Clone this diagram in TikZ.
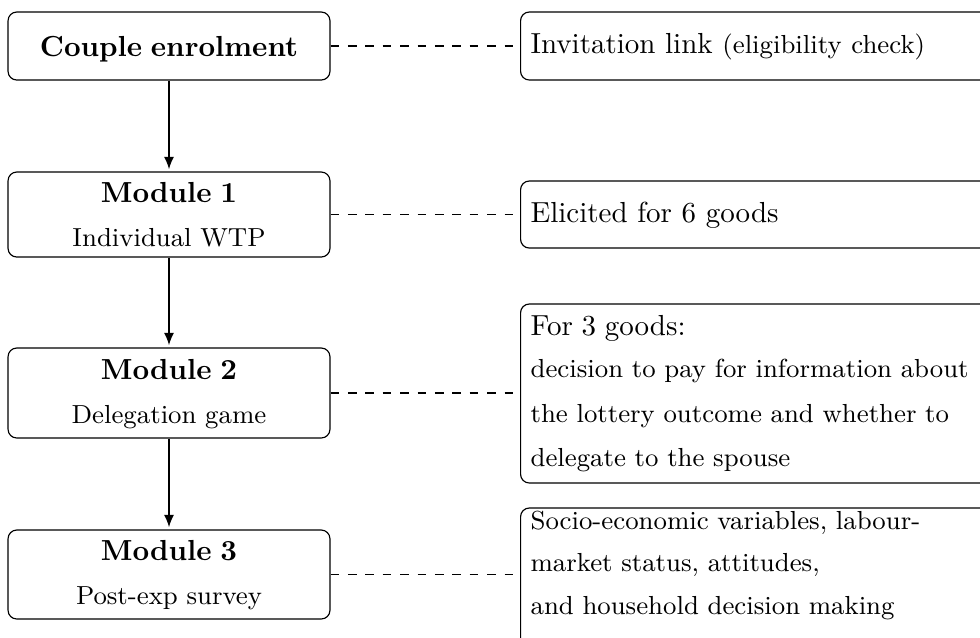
\documentclass[tikz,border=0pt]{standalone}
\usetikzlibrary{arrows.meta}
\begin{document}
\begin{tikzpicture}[x=0.34483pt,y=-0.34483pt,
  lbox/.style={draw, rounded corners=3pt, inner xsep=0pt, inner ysep=0pt, text width=111pt, align=center, anchor=base, font=\small},
  rbox/.style={draw, rounded corners=3pt, inner xsep=3.45pt, inner ysep=0pt, text width=170pt, align=left, anchor=base west},
  flow/.style={-{Latex[length=4.2pt,width=3.4pt]}, shorten >=0.8pt},
  link/.style={dashed}]
\useasboundingbox (0,0) rectangle (980,637);
\clip (0,0) rectangle (980,637);

% left column
\node[lbox, text height=15.17pt, text depth=8.28pt] (enrol) at (169,56) {\normalsize\bfseries Couple enrolment};
\node[lbox, text height=10.34pt, text depth=18.97pt] (m1) at (169,202) {{\normalsize\bfseries Module 1}\\[4.5pt]Individual WTP};
\node[lbox, text height=10.69pt, text depth=20.34pt] (m2) at (169,379) {{\normalsize\bfseries Module 2}\\[4.2pt]Delegation game};
\node[lbox, text height=10.34pt, text depth=20.34pt] (m3) at (169,560) {{\normalsize\bfseries Module 3}\\[4.2pt]Post-exp survey};

% right column
\node[rbox, text height=14.14pt, text depth=9.31pt] (r0) at (520,53) {Invitation link {\small (eligibility check)}};
\node[rbox, text height=14.14pt, text depth=8.97pt] (r1) at (520,222) {Elicited for 6 goods};
\node[rbox, font=\small, text height=10.69pt, text depth=51.03pt] (r2) at (520,335) {{\normalsize For 3 goods:}\\[3.5pt]decision to pay for information about\\[4.5pt]the lottery outcome and whether to\\[4.5pt]delegate to the spouse};
\node[rbox, font=\small, text height=7.24pt, text depth=45.2pt] (r3) at (520,529) {Socio-economic variables, labour-\\[3.8pt]market status, attitudes,\\[3.8pt]and household decision making};

% flow arrows
\draw[flow] (enrol.south) -- (m1.north);
\draw[flow] (m1.south) -- (m2.north);
\draw[flow] (m2.south) -- (m3.north);

% dashed links
\draw[link] (enrol.east) -- (enrol.east -| r0.west);
\draw[link] (m1.east) -- (m1.east -| r1.west);
\draw[link] (m2.east) -- (m2.east -| r2.west);
\draw[link] (m3.east) -- (m3.east -| r3.west);
\end{tikzpicture}
\end{document}
